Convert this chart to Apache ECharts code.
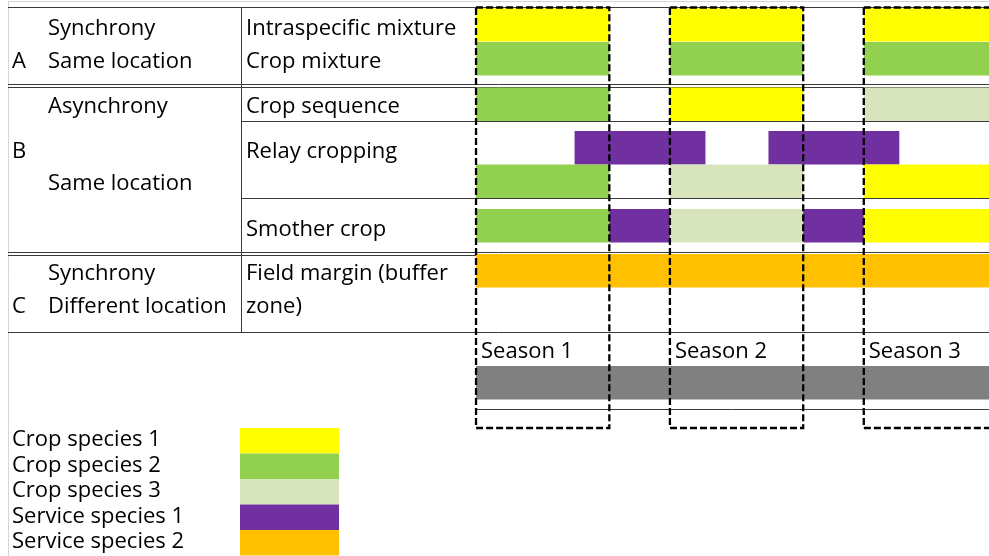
<!DOCTYPE html>
<html>
<head>
<meta charset="utf-8">
<script src="https://cdn.jsdelivr.net/npm/echarts@6/dist/echarts.min.js"></script>
<style>
    html, body { margin: 0; padding: 0; background: #fff; }
    #main { width: 989px; height: 556px; }
</style>
</head>
<body>
<div id="main"></div>
<script>
(function () {
    "use strict";

    // legend / species
    var speciesNames = ['Crop species 1', 'Crop species 2', 'Crop species 3', 'Service species 1', 'Service species 2'];
    var speciesColors = ['#FFFF00', '#92D050', '#D8E4BC', '#7030A0', '#FFC000'];

    // seasons, time in months
    var seasonNames = ['Season 1', 'Season 2', 'Season 3'];
    var seasonStart = [0, 12, 24];
    var seasonEnd = [8.25, 20.25, 32.25];

    // left table text
    var groupLetters = ['A', 'B', 'C'];
    var groupTiming = ['Synchrony', 'Same location', 'Asynchrony', 'Same location', 'Synchrony', 'Different location'];
    var techniqueNames = ['Intraspecific mixture', 'Crop mixture', 'Crop sequence', 'Relay cropping', 'Smother crop', 'Field margin (buffer', 'zone)'];

    // bars per lane: [start, end, species]
    var intraspecificMixture = [[0, 8.25, 0], [12, 20.25, 0], [24, 32.25, 0]];
    var cropMixture = [[0, 8.25, 1], [12, 20.25, 1], [24, 32.25, 1]];
    var cropSequence = [[0, 8.25, 1], [12, 20.25, 0], [24, 32.25, 2]];
    var relayService = [[6.1, 14.2, 3], [18.1, 26.2, 3]];
    var relayCrops = [[0, 8.25, 1], [12, 20.25, 2], [24, 32.25, 0]];
    var smotherCrop = [[0, 8.25, 1], [8.25, 12, 3], [12, 20.25, 2], [20.25, 24, 3], [24, 32.25, 0]];
    var fieldMargin = [[0, 32.25, 4]];
    var timeline = [[0, 32.25, -1]];

    var lanes = [intraspecificMixture, cropMixture, cropSequence, relayService, relayCrops, smotherCrop, fieldMargin, timeline];

    // layout (y in page pixels)
    var laneTop = [8, 42, 87.5, 131, 164.5, 209, 254, 366];
    var laneH = 33.5;
    var FONT = '"Open Sans"';
    var FS = 22;
    var DY = 1; // text nudge

    var barData = [];
    lanes.forEach(function (lane, i) {
        lane.forEach(function (b) {
            barData.push([i, b[0], b[1], b[2]]);
        });
    });
    var seasonData = seasonNames.map(function (n, i) {
        return [seasonStart[i], seasonEnd[i], n];
    });

    var graphics = [];
    function hline(x1, x2, y, color) {
        graphics.push({
            type: 'line', silent: true,
            shape: { x1: x1, y1: y, x2: x2, y2: y },
            style: { stroke: color || '#3a3a3a', lineWidth: 1 }
        });
    }
    function vline(x, y1, y2, color) {
        graphics.push({
            type: 'line', silent: true,
            shape: { x1: x, y1: y1, x2: x, y2: y2 },
            style: { stroke: color || '#3a3a3a', lineWidth: 1 }
        });
    }
    function txt(s, x, y) {
        graphics.push({
            type: 'text', silent: true, x: x, y: y + DY,
            style: { text: s, fill: '#000', fontSize: FS, fontFamily: FONT, verticalAlign: 'middle' }
        });
    }

    // frame
    hline(8, 989, 1.5, '#d6d6d6');
    vline(8.5, 1, 556, '#d6d6d6');
    // table rules
    hline(8, 989, 7.5);
    hline(8, 989, 84.5);
    hline(8, 989, 87.5);
    hline(241, 989, 121.5);
    hline(241, 989, 198.5);
    hline(8, 989, 252.5);
    hline(8, 989, 255.5);
    hline(8, 989, 332.5);
    hline(476, 989, 409.5);
    vline(241.5, 7.5, 332.5);

    var letterY = [60.7, 150.7, 306];
    groupLetters.forEach(function (s, i) { txt(s, 12, letterY[i]); });
    var timingY = [27.8, 60.7, 105.7, 182.7, 273, 306];
    groupTiming.forEach(function (s, i) { txt(s, 48, timingY[i]); });
    var techY = [27.5, 60.7, 106, 151, 228.3, 273, 306];
    techniqueNames.forEach(function (s, i) { txt(s, 246, techY[i]); });

    // legend
    speciesNames.forEach(function (s, i) {
        txt(s, 12, 439 + i * 25.5);
        graphics.push({
            type: 'rect', silent: true,
            shape: { x: 240, y: 428 + i * 25.5, width: 99, height: 25.5 },
            style: { fill: speciesColors[i] }
        });
    });

    var myChart = echarts.init(document.getElementById('main'));

    var option = {
        animation: false,
        grid: { left: 472, right: 0, top: 0, bottom: 0 },
        xAxis: { type: 'value', min: -0.25, max: 31.75, show: false },
        yAxis: { type: 'value', min: 0, max: 556, inverse: true, show: false },
        graphic: graphics,
        series: [{
            type: 'custom',
            clip: true,
            z: 2,
            data: barData,
            renderItem: function (params, api) {
                var lane = api.value(0);
                var sp = api.value(3);
                var p0 = api.coord([api.value(1), laneTop[lane]]);
                var p1 = api.coord([api.value(2), laneTop[lane] + laneH]);
                return {
                    type: 'rect',
                    shape: { x: p0[0], y: p0[1], width: p1[0] - p0[0], height: p1[1] - p0[1] },
                    style: { fill: sp < 0 ? '#808080' : speciesColors[sp] }
                };
            }
        }, {
            type: 'custom',
            clip: true,
            z: 5,
            data: seasonData,
            renderItem: function (params, api) {
                var p0 = api.coord([api.value(0), 7.5]);
                var p1 = api.coord([api.value(1), 428]);
                return {
                    type: 'group',
                    children: [{
                        type: 'rect',
                        shape: { x: p0[0], y: p0[1], width: p1[0] - p0[0], height: p1[1] - p0[1] },
                        style: { fill: 'none', stroke: '#000', lineWidth: 2.3, lineDash: [7, 3] }
                    }, {
                        type: 'text',
                        style: {
                            text: seasonNames[params.dataIndex], x: p0[0] + 5, y: 351 + DY,
                            fill: '#000', fontSize: FS, fontFamily: FONT, verticalAlign: 'middle'
                        }
                    }]
                };
            }
        }]
    };
    myChart.setOption(option);
})();
</script>
</body>
</html>
